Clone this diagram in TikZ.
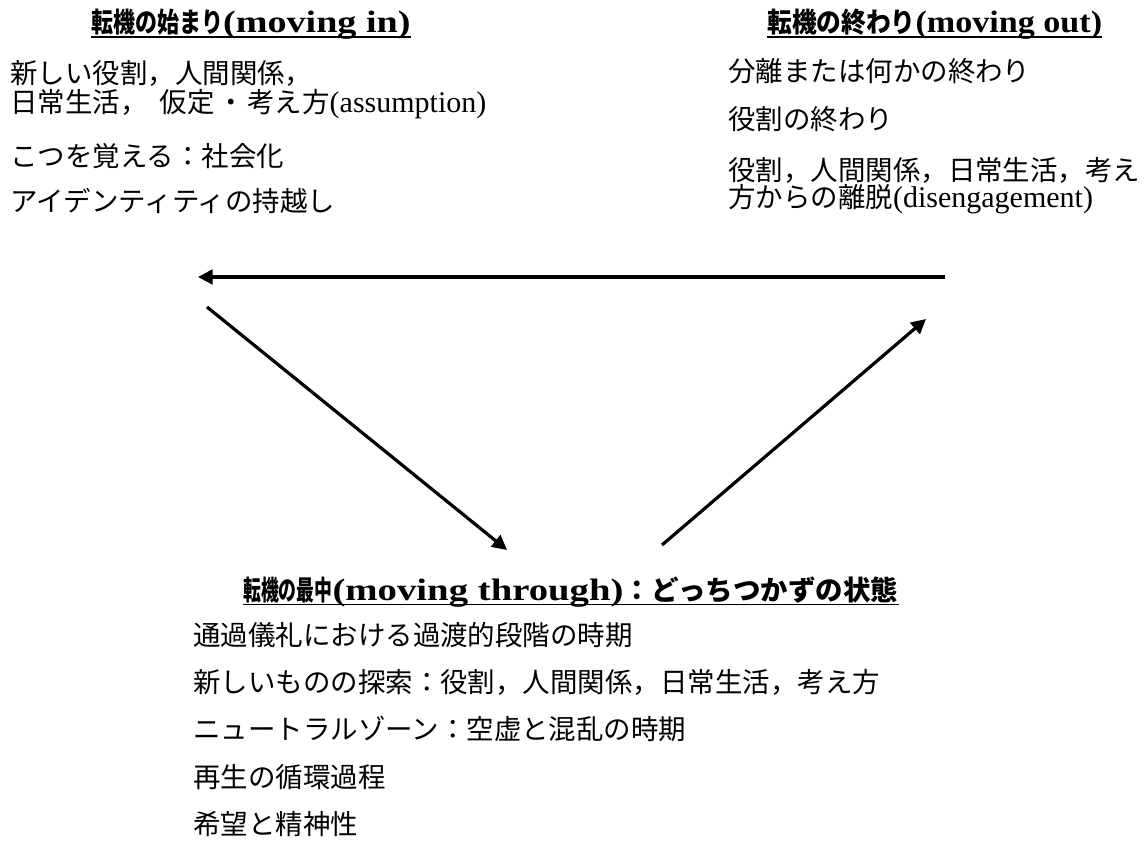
\documentclass[tikz,border=0pt]{standalone}
\usepackage{fontspec}
\usepackage{graphicx}
\usetikzlibrary{arrows.meta}
\setmainfont{Liberation Serif}
\newfontfamily\jp{Noto Sans CJK JP}
\newcommand\bodysize{\fontsize{20.6pt}{24pt}\selectfont}
\newcommand\latsize{\fontsize{22.5pt}{24pt}\selectfont}
\newcommand\jtsize{\fontsize{20.6pt}{24pt}\selectfont}
\newcommand\ltsize{\fontsize{23.25pt}{26pt}\selectfont}
\newcommand\jtitle[2]{\scalebox{#1}[1]{\jp\bfseries\jtsize #2}}
\newcommand\ltitle[2]{\scalebox{#1}[1]{\rmfamily\bfseries\ltsize #2}}
\newcommand\lat[1]{{\rmfamily\latsize #1}}
\begin{document}
\begin{tikzpicture}[x=0.75pt,y=-0.75pt,
  body/.style={anchor=base west, inner sep=0pt, font=\jp\bodysize},
  ttl/.style={anchor=base west, inner sep=0pt},
  uline/.style={line width=1.1pt},
  arr/.style={line width=2.4pt, -{Triangle[length=11pt,width=11pt]}}]
\useasboundingbox (0,0) rectangle (1148,848);

% titles
\node[ttl] (t1) at (91,33) {\jtitle{0.8}{転機の始まり}\ltitle{1.23}{(moving in)}};
\node[ttl] (t2) at (767,33) {\jtitle{0.9}{転機の終わり}\ltitle{1.1}{(moving out)}};
\node[ttl] (t3) at (243,600) {\jtitle{0.65}{転機の最中}\ltitle{1.25}{(moving through)}\jtitle{1}{：どっちつかずの状態}};
\draw[uline] ([yshift=-3pt]t1.base west) -- ([yshift=-3pt]t1.base east);
\draw[uline] ([yshift=-3pt]t2.base west) -- ([yshift=-3pt]t2.base east);
\draw[uline] ([yshift=-3.5pt]t3.base west) -- ([yshift=-3.5pt]t3.base east);

% top left
\node[body] (l1) at (10,84) {新しい役割，人間関係，};
\node[body] (l2) at (10,113) {日常生活，\hspace{9pt}仮定\hspace{2pt}・\hspace{2pt}考え方\lat{(assumption)}};
\node[body] (l3) at (10,167) {こつを覚える：社会化};
\node[body] (l4) at (10,212) {アイデンティティの持越し};

% top right
\node[body] (r1) at (728,82) {分離または何かの終わり};
\node[body] (r2) at (728,130) {役割の終わり};
\node[body] (r3) at (728,181) {役割，人間関係，日常生活，考え};
\node[body] (r4) at (728,208) {方からの離脱\lat{(disengagement)}};

% bottom
\node[body] (b1) at (193,645) {通過儀礼における過渡的段階の時期};
\node[body] (b2) at (193,692) {新しいものの探索：役割，人間関係，日常生活，考え方};
\node[body] (b3) at (193,739.5) {ニュートラルゾーン：空虚と混乱の時期};
\node[body] (b4) at (193,787) {再生の循環過程};
\node[body] (b5) at (193,834) {希望と精神性};

% arrows
\coordinate (outR) at (945,277);
\coordinate (inL) at (198,277);
\coordinate (inS) at (207,307);
\coordinate (thE) at (507,550);
\coordinate (thS) at (662,545);
\coordinate (outE) at (926,319);
\draw[arr] (outR) -- (inL);
\draw[arr] (inS) -- (thE);
\draw[arr] (thS) -- (outE);
\end{tikzpicture}
\end{document}
